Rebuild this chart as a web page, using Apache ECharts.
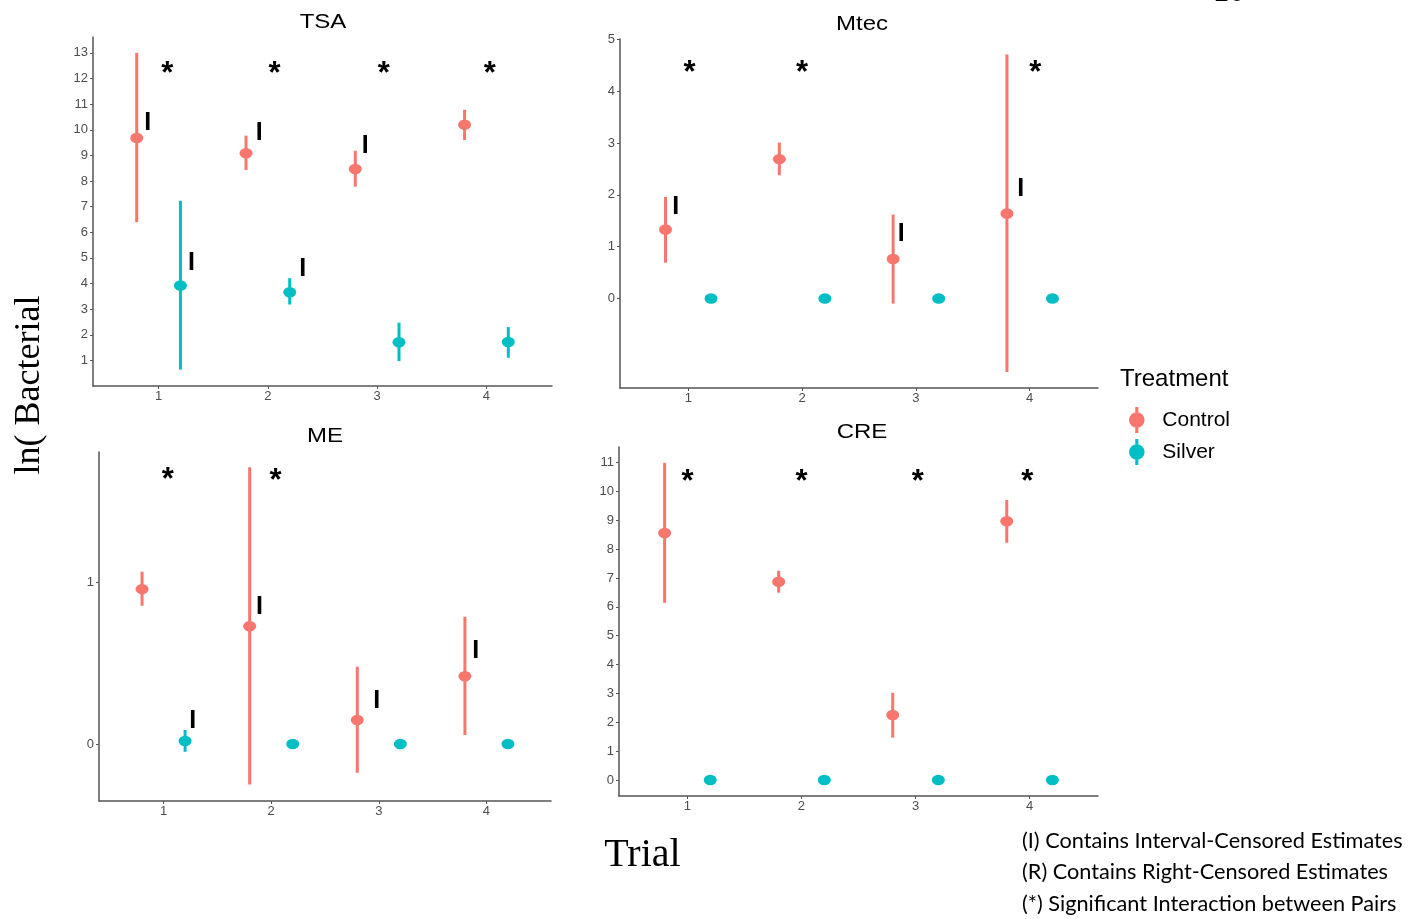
<!DOCTYPE html>
<html><head><meta charset="utf-8">
<script src="https://cdn.jsdelivr.net/npm/echarts@6/dist/echarts.min.js"></script>
<style>html,body{margin:0;padding:0;background:#fff}#c{width:1413px;height:919px}</style>
</head><body><div id="c"></div>
<script>
// ---------- data ----------
const trials = [1, 2, 3, 4];
const panelNames = ['TSA', 'Mtec', 'ME', 'CRE'];
const groupNames = ['Control', 'Silver'];

// TSA
const tsaControl     = [9.68, 9.08, 8.47, 10.20];
const tsaControlLow  = [6.39, 8.43, 7.78, 9.60];
const tsaControlHigh = [13.00, 9.77, 9.18, 10.78];
const tsaSilver      = [3.92, 3.66, 1.71, 1.72];
const tsaSilverLow   = [0.64, 3.18, 0.97, 1.10];
const tsaSilverHigh  = [7.23, 4.21, 2.47, 2.30];
const tsaYTicks = [1,2,3,4,5,6,7,8,9,10,11,12,13];
const tsaStarX = [1.08, 2.06, 3.06, 4.03];
const tsaStarY = [12.33, 12.33, 12.33, 12.33];
const tsaIntX = [0.90, 1.92, 2.89, 1.30, 2.32];
const tsaIntY = [10.25, 9.86, 9.35, 4.80, 4.55];

// Mtec
const mtecControl     = [1.33, 2.69, 0.76, 1.64];
const mtecControlLow  = [0.69, 2.38, -0.10, -1.42];
const mtecControlHigh = [1.96, 3.01, 1.62, 4.71];
const mtecSilver      = [0, 0, 0, 0];
const mtecSilverLow   = [0, 0, 0, 0];
const mtecSilverHigh  = [0, 0, 0, 0];
const mtecYTicks = [0,1,2,3,4,5];
const mtecStarX = [1.01, 2.00, 4.05];
const mtecStarY = [4.43, 4.43, 4.43];
const mtecIntX = [0.89, 2.87, 3.92];
const mtecIntY = [1.77, 1.25, 2.11];

// ME
const meControl     = [0.96, 0.73, 0.149, 0.42];
const meControlLow  = [0.857, -0.25, -0.178, 0.056];
const meControlHigh = [1.068, 1.715, 0.479, 0.789];
const meSilver      = [0.019, 0, 0, 0];
const meSilverLow   = [-0.048, 0, 0, 0];
const meSilverHigh  = [0.087, 0, 0, 0];
const meYTicks = [0, 1];
const meStarX = [1.04, 2.04];
const meStarY = [1.657, 1.650];
const meIntX = [1.27, 1.89, 2.98, 3.90];
const meIntY = [0.144, 0.847, 0.268, 0.578];

// CRE
const creControl     = [8.56, 6.87, 2.25, 8.97];
const creControlLow  = [6.14, 6.49, 1.47, 8.22];
const creControlHigh = [10.99, 7.25, 3.02, 9.70];
const creSilver      = [0, 0, 0, 0];
const creSilverLow   = [0, 0, 0, 0];
const creSilverHigh  = [0, 0, 0, 0];
const creYTicks = [0,1,2,3,4,5,6,7,8,9,10,11];
const creStarX = [1.00, 2.00, 3.02, 3.98];
const creStarY = [10.46, 10.46, 10.46, 10.46];
const creIntX = [];
const creIntY = [];

const xTicks = [1, 2, 3, 4];
const footnotes = [
  '(I) Contains Interval-Censored Estimates',
  '(R) Contains Right-Censored Estimates',
  '(*) Significant Interaction between Pairs'
];

// ---------- layout / style ----------
const COLORS = { Control: '#F8766D', Silver: '#00BFC4' };
const DODGE = 0.2;
const panelData = [
  { c: [tsaControl, tsaControlLow, tsaControlHigh], s: [tsaSilver, tsaSilverLow, tsaSilverHigh], ticks: tsaYTicks, starX: tsaStarX, starY: tsaStarY, intX: tsaIntX, intY: tsaIntY },
  { c: [mtecControl, mtecControlLow, mtecControlHigh], s: [mtecSilver, mtecSilverLow, mtecSilverHigh], ticks: mtecYTicks, starX: mtecStarX, starY: mtecStarY, intX: mtecIntX, intY: mtecIntY },
  { c: [meControl, meControlLow, meControlHigh], s: [meSilver, meSilverLow, meSilverHigh], ticks: meYTicks, starX: meStarX, starY: meStarY, intX: meIntX, intY: meIntY },
  { c: [creControl, creControlLow, creControlHigh], s: [creSilver, creSilverLow, creSilverHigh], ticks: creYTicks, starX: creStarX, starY: creStarY, intX: creIntX, intY: creIntY }
];
const grids = [
  { left: 93,  top: 37,  width: 459, height: 349 },
  { left: 620, top: 39,  width: 478, height: 349 },
  { left: 99,  top: 452, width: 452, height: 349 },
  { left: 619, top: 447, width: 479, height: 349 }
];
const yRanges = [[0.0, 13.62], [-1.73, 5.01], [-0.353, 1.81], [-0.554, 11.54]];
const titlePos = [[323, 22], [862, 24], [325, 436], [862, 432]];

const AXIS_COLOR = '#555';
const LABEL_COLOR = '#4d4d4d';
const SANS = '"Liberation Sans", Arial, sans-serif';
const SERIF = '"Liberation Serif", "Times New Roman", serif';

const xAxes = [], yAxes = [], series = [];
grids.forEach((g, i) => {
  xAxes.push({
    type: 'value', gridIndex: i, min: 0.4, max: 4.6,
    axisLine: { show: true, onZero: false, lineStyle: { color: AXIS_COLOR, width: 1.5 } },
    axisTick: { show: true, length: 3, customValues: xTicks, lineStyle: { color: AXIS_COLOR, width: 1 } },
    axisLabel: { customValues: xTicks, color: LABEL_COLOR, fontSize: 13, fontFamily: SANS, margin: 4 },
    splitLine: { show: false }
  });
  yAxes.push({
    type: 'value', gridIndex: i, min: yRanges[i][0], max: yRanges[i][1],
    axisLine: { show: true, onZero: false, lineStyle: { color: AXIS_COLOR, width: 1.5 } },
    axisTick: { show: true, length: 3, customValues: panelData[i].ticks, lineStyle: { color: AXIS_COLOR, width: 1 } },
    axisLabel: { customValues: panelData[i].ticks, color: LABEL_COLOR, fontSize: 13, fontFamily: SANS, margin: 5 },
    splitLine: { show: false }
  });
  const pd = panelData[i];
  groupNames.forEach((gname, gi) => {
    const arr = gi === 0 ? pd.c : pd.s;
    const off = gi === 0 ? -DODGE : DODGE;
    const barData = trials.map((t, k) => [t + off, arr[1][k], arr[2][k]]).filter(d => d[1] !== d[2]);
    series.push({
      name: gname, type: 'custom', xAxisIndex: i, yAxisIndex: i, z: 2,
      data: barData, silent: true,
      renderItem: (params, api) => {
        const p1 = api.coord([api.value(0), api.value(1)]);
        const p2 = api.coord([api.value(0), api.value(2)]);
        return { type: 'line', shape: { x1: p1[0], y1: p1[1], x2: p2[0], y2: p2[1] },
          style: { stroke: COLORS[gname], lineWidth: 3 } };
      }
    });
    series.push({
      name: gname, type: 'scatter', xAxisIndex: i, yAxisIndex: i, z: 3,
      symbol: 'circle', symbolSize: [13, 10.5],
      itemStyle: { color: COLORS[gname], opacity: 1 },
      data: trials.map((t, k) => [t + off, arr[0][k]]), silent: true
    });
  });
  // asterisks
  series.push({
    type: 'custom', xAxisIndex: i, yAxisIndex: i, z: 4, silent: true,
    data: pd.starX.map((x, k) => [x, pd.starY[k]]),
    renderItem: (params, api) => {
      const p = api.coord([api.value(0), api.value(1)]);
      return { type: 'text', style: { x: p[0], y: p[1] + 4, text: '*', font: 'bold 31px ' + SANS,
        fill: '#000', textAlign: 'center', textVerticalAlign: 'middle' } };
    }
  });
  // interval-censored marks
  series.push({
    type: 'custom', xAxisIndex: i, yAxisIndex: i, z: 4, silent: true,
    data: pd.intX.map((x, k) => [x, pd.intY[k]]),
    renderItem: (params, api) => {
      const p = api.coord([api.value(0), api.value(1)]);
      return { type: 'text', style: { x: p[0], y: p[1], text: 'I', font: 'bold 25px ' + SANS,
        fill: '#000', textAlign: 'center', textVerticalAlign: 'middle' } };
    }
  });
});

const graphics = [];
panelNames.forEach((n, i) => {
  graphics.push({ type: 'text', x: titlePos[i][0], y: titlePos[i][1], scaleX: 1.2, silent: true,
    style: { text: n, font: '20px ' + SANS, fill: '#000', textAlign: 'center', textVerticalAlign: 'middle' } });
});
graphics.push({ type: 'text', x: 29.5, y: 385, rotation: Math.PI / 2, silent: true,
  style: { text: 'ln( Bacterial', font: '36px ' + SERIF, fill: '#000', textAlign: 'center', textVerticalAlign: 'middle' } });
graphics.push({ type: 'text', x: 642.5, y: 855, silent: true,
  style: { text: 'Trial', font: '40px ' + SERIF, fill: '#000', textAlign: 'center', textVerticalAlign: 'middle' } });
graphics.push({ type: 'text', x: 1229, y: -7, silent: true,
  style: { text: '26', font: '29px ' + SERIF, fill: '#000', textAlign: 'center', textVerticalAlign: 'middle' } });
graphics.push({ type: 'text', x: 1120, y: 379, silent: true,
  style: { text: 'Treatment', font: '24px ' + SANS, fill: '#000', textAlign: 'left', textVerticalAlign: 'middle' } });
const footY = [841, 872, 904];
footnotes.forEach((t, k) => {
  graphics.push({ type: 'text', x: 1022, y: footY[k], silent: true,
    style: { text: t, font: '21.7px Lato, "Open Sans", sans-serif', fill: '#000', textAlign: 'left', textVerticalAlign: 'middle' } });
});

const legendIcon = 'path://M6.5,0 L9.5,0 L9.5,5 L6.5,5 Z M6.5,20 L9.5,20 L9.5,25 L6.5,25 Z M0.5,12.5 A7.5,7.5 0 1 0 15.5,12.5 A7.5,7.5 0 1 0 0.5,12.5 Z';

const option = {
  animation: false,
  backgroundColor: '#fff',
  color: [COLORS.Control, COLORS.Silver],
  grid: grids.map(g => Object.assign({ outerBoundsMode: 'none', containLabel: false }, g)),
  xAxis: xAxes,
  yAxis: yAxes,
  legend: {
    data: [{ name: 'Control', itemStyle: { color: COLORS.Control } }, { name: 'Silver', itemStyle: { color: COLORS.Silver } }],
    orient: 'vertical', left: 1124, top: 402, itemWidth: 17, itemHeight: 26, itemGap: 6,
    icon: legendIcon, selectedMode: false,
    textStyle: { fontSize: 21, color: '#000', fontFamily: SANS, padding: [0, 0, 0, 12] }
  },
  graphic: graphics,
  series: series
};
const chart = echarts.init(document.getElementById('c'), null, { renderer: 'canvas' });
chart.setOption(option);
</script>
</body></html>
